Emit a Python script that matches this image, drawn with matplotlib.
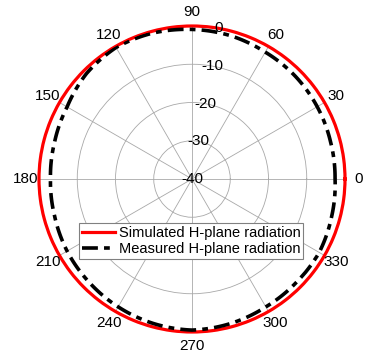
import matplotlib.pyplot as plt
import numpy as np

plt.rcParams['font.family'] = ['Liberation Sans', 'DejaVu Sans']

# angles in degrees, gains in dB
angles = [0, 15, 30, 45, 60, 75, 90, 105, 120, 135, 150, 165,
          180, 195, 210, 225, 240, 255, 270, 285, 300, 315, 330, 345, 360]
simulated = [0.0] * len(angles)
measured = [-2.6, -2.5, -2.2, -1.9, -1.7, -1.2, -0.9, -0.5, -0.3, -1.0, -2.3, -2.8,
            -3.0, -2.8, -2.3, -1.9, -1.4, -0.9, -0.5, -0.9, -1.4, -1.6, -1.6, -2.2, -2.6]

r_ticks = [-40, -30, -20, -10, 0]
theta_ticks = [0, 30, 60, 90, 120, 150, 180, 210, 240, 270, 300, 330]

fig = plt.figure(figsize=(3.7, 3.61), dpi=100)
cx, cy, rad = 192, 179, 153
ax = fig.add_axes([(cx - rad) / 370, (361 - cy - rad) / 361, 2 * rad / 370, 2 * rad / 361],
                  projection='polar')

th = np.radians(angles)
l1, = ax.plot(th, simulated, color='#ff0000', lw=2.3, clip_on=False,
              label='Simulated H-plane radiation')
l2, = ax.plot(th, measured, color='black', lw=2.6, dashes=(4.4, 1.7, 1.6, 1.7),
              label='Measured H-plane radiation')
# draw segments as arcs in polar space
for ln in (l1, l2):
    ln.get_path()._interpolation_steps = 40

ax.set_ylim(-40, 0)
ax.set_yticks(r_ticks)
ax.set_yticklabels([])
ax.set_xticks(np.radians(theta_ticks))
ax.set_xticklabels([])
ax.grid(True, color='#a8a8a8', lw=0.6)
ax.spines['polar'].set_visible(False)

for t in theta_ticks:
    ax.text(np.radians(t), 3.6, str(t), ha='center', va='center', fontsize=11,
            clip_on=False)

for r in r_ticks:
    ax.text(np.radians(80), r, str(r), ha='center', va='center', fontsize=11)

leg = fig.legend(loc='center', bbox_to_anchor=(191 / 370, 1 - 241 / 361), fontsize=10.5,
                 handlelength=2.3, handletextpad=0.25, borderpad=0.2, labelspacing=0.1,
                 fancybox=False, framealpha=1, edgecolor='#808080')
leg.get_frame().set_linewidth(0.8)

fig.savefig('out.png', dpi=100)
